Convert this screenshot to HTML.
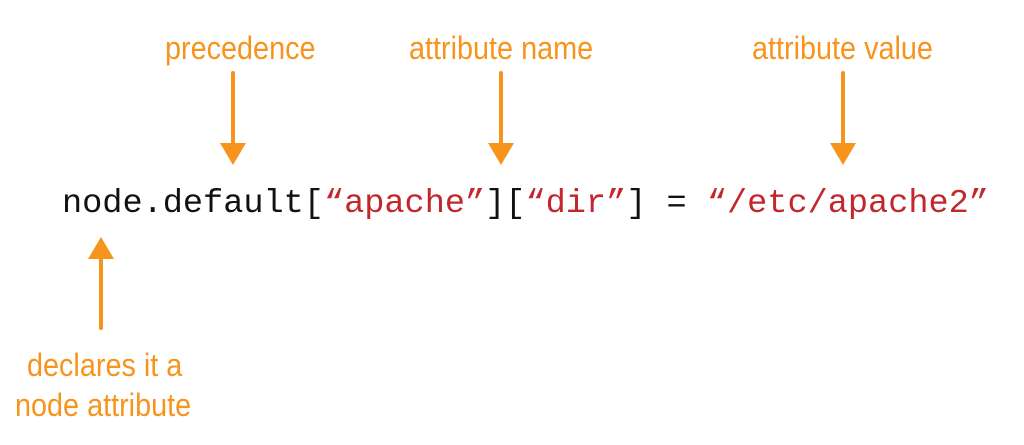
<!DOCTYPE html>
<html><head><meta charset="utf-8"><style>
html,body{margin:0;padding:0;background:#fff;}
#c{position:relative;width:1024px;height:445px;overflow:hidden;background:#fff;}
.lbl{position:absolute;color:#f7941d;font-family:"Liberation Sans Narrow","Liberation Sans",sans-serif;font-size:32px;white-space:nowrap;transform-origin:0 0;transform:scaleX(0.9);line-height:1;}
.code{position:absolute;left:62px;top:188px;font-family:"Liberation Mono",monospace;font-size:33.6px;color:#111;white-space:pre;line-height:1;}
.r{color:#c1272d;}
</style></head><body><div id="c">
<div class="lbl" style="left:165px;top:32px;">precedence</div>
<div class="lbl" style="left:409px;top:32px;">attribute name</div>
<div class="lbl" style="left:752px;top:32px;">attribute value</div>
<div class="lbl" style="left:27px;top:349px;">declares it a</div>
<div class="lbl" style="left:15px;top:389px;">node attribute</div>
<div class="code">node.default[<span class="r">“apache”</span>][<span class="r">“dir”</span>] = <span class="r">“/etc/apache2”</span></div>
<svg width="1024" height="445" style="position:absolute;left:0;top:0">
<g stroke="#f7941d" stroke-width="4" stroke-linecap="round" fill="#f7941d">
<line x1="233" y1="73" x2="233" y2="146"/>
<polygon stroke="none" points="220,143 246,143 233,165"/>
<line x1="501" y1="73" x2="501" y2="146"/>
<polygon stroke="none" points="488,143 514,143 501,165"/>
<line x1="843" y1="73" x2="843" y2="146"/>
<polygon stroke="none" points="830,143 856,143 843,165"/>
<line x1="101" y1="256" x2="101" y2="328"/>
<polygon stroke="none" points="88,259 114,259 101,237"/>
</g></svg>
</div></body></html>
